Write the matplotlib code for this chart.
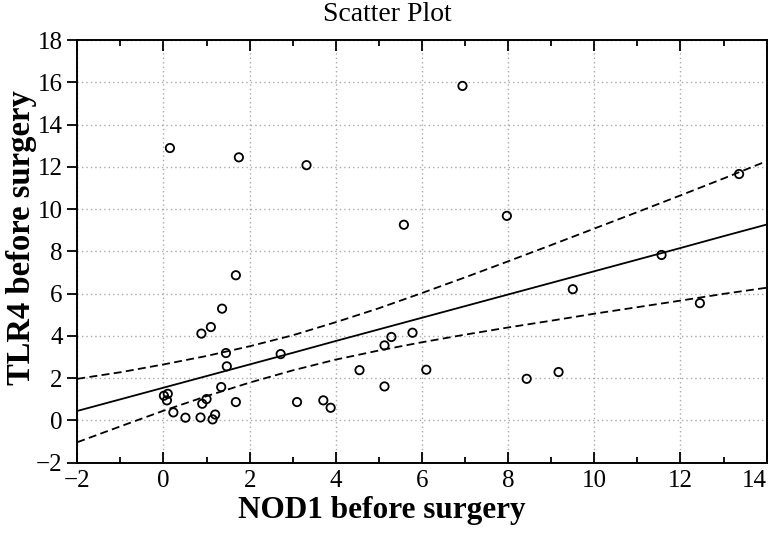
import numpy as np
import matplotlib.pyplot as plt
from matplotlib.ticker import MultipleLocator, FuncFormatter

# NOD1 / TLR4 before surgery
nod1 = [0.15, 1.75, 3.32, 1.68, 1.36, 1.10, 0.88, 1.45, 1.47, 2.72,
        1.34, 0.01, 0.10, 0.08, 0.23, 0.51, 0.86, 0.90, 1.00, 1.20,
        1.14, 1.68, 3.10, 3.71, 3.88, 4.55, 5.13, 5.13, 5.29, 5.78,
        6.10, 8.43, 9.17, 7.97, 13.36, 11.56, 9.50, 12.45, 6.94, 5.58]
tlr4 = [12.89, 12.45, 12.08, 6.87, 5.29, 4.42, 4.11, 3.19, 2.56, 3.14,
        1.58, 1.17, 1.26, 0.95, 0.38, 0.13, 0.14, 0.79, 1.01, 0.28,
        0.05, 0.87, 0.87, 0.95, 0.60, 2.38, 1.61, 3.55, 3.95, 4.15,
        2.40, 1.97, 2.29, 9.68, 11.66, 7.83, 6.21, 5.55, 15.83, 9.26]

# regression line and 95% band as drawn in the reference
band_x = [-2, -1, 0, 1, 2, 3, 4, 5, 6, 7, 8, 9, 10, 11, 12, 13, 14]
fit_y = [0.45, 1.00, 1.55, 2.10, 2.65, 3.20, 3.76, 4.31, 4.86,
         5.41, 5.96, 6.51, 7.06, 7.61, 8.16, 8.72, 9.27]
upper_y = [1.97, 2.28, 2.65, 3.05, 3.51, 4.03, 4.65, 5.31, 6.03,
           6.77, 7.53, 8.30, 9.08, 9.86, 10.65, 11.45, 12.27]
lower_y = [-1.03, -0.28, 0.46, 1.15, 1.79, 2.37, 2.88, 3.31, 3.70,
           4.06, 4.40, 4.72, 5.05, 5.36, 5.67, 5.99, 6.28]

XLIM = (-2, 14)
YLIM = (-2, 18)

plt.rcParams['font.family'] = ['Liberation Serif', 'DejaVu Serif']
fig = plt.figure(figsize=(7.73, 5.34), dpi=100)
ax = fig.add_axes([0.100, 0.1335, 0.8918, 0.7915])

ax.plot(band_x, fit_y, color='black', lw=1.3)
ax.plot(band_x, upper_y, color='black', lw=1.3, ls=(0, (4.4, 2.4)))
ax.plot(band_x, lower_y, color='black', lw=1.3, ls=(0, (4.4, 2.4)))
ax.scatter(nod1, tlr4, s=36, facecolors='none', edgecolors='black',
           linewidths=1.3, zorder=3)

ax.set_xlim(XLIM)
ax.set_ylim(YLIM)
ax.xaxis.set_major_locator(MultipleLocator(2))
ax.xaxis.set_minor_locator(MultipleLocator(1))
ax.yaxis.set_major_locator(MultipleLocator(2))

# the last x label is drawn separately, right-aligned, so it isn't clipped
def xfmt(v, pos):
    if v >= XLIM[1]:
        return ''
    return f'{v:g}'.replace('-', '\u2212')

ax.xaxis.set_major_formatter(FuncFormatter(xfmt))
ax.annotate(f'{XLIM[1]:g}', xy=(XLIM[1], 0), xycoords=('data', 'axes fraction'),
            xytext=(0, -5), textcoords='offset points',
            ha='right', va='top', fontsize=18)

ax.grid(True, which='major', color='#aaaaaa', ls=(0, (1, 2.2)), lw=1.0)
ax.tick_params(axis='x', which='both', direction='in', top=True,
               labelsize=18, width=1.3, pad=5)
ax.tick_params(axis='x', which='major', length=8)
ax.tick_params(axis='x', which='minor', length=4)
ax.tick_params(axis='y', direction='out', length=7, width=1.3,
               labelsize=18, pad=3.5)
for sp in ax.spines.values():
    sp.set_linewidth(1.4)

ax.set_title('Scatter Plot', fontsize=20, x=0.45, y=1.045, pad=0)
ax.set_xlabel('NOD1 before surgery', fontsize=22.5, fontweight='bold')
ax.set_ylabel('TLR4 before surgery', fontsize=23.5, fontweight='bold')
ax.xaxis.set_label_coords(0.442, -0.079)
ax.yaxis.set_label_coords(-0.058, 0.533)

fig.savefig('out.png', dpi=100)
